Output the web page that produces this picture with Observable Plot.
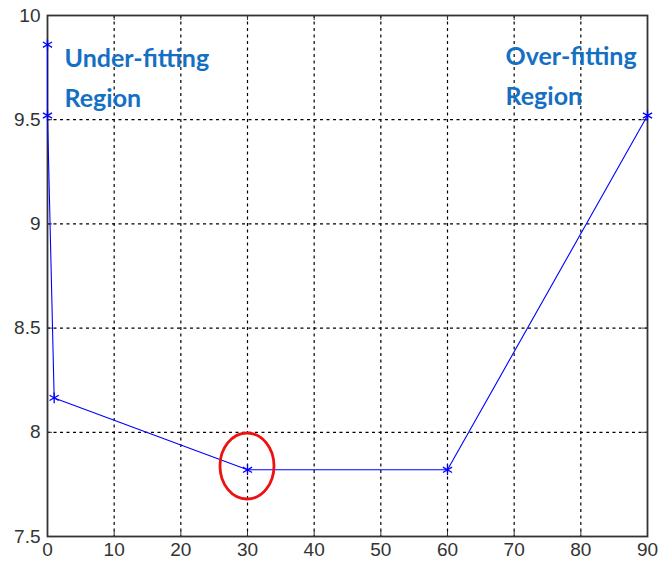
<!DOCTYPE html>
<html><head><meta charset="utf-8">
<script src="https://cdn.jsdelivr.net/npm/d3@7"></script>
<script src="https://cdn.jsdelivr.net/npm/@observablehq/plot@0.6"></script>
<style>body{margin:0;background:#fff}</style>
</head><body><div id="chart"></div>
<script>
const xValues = [0, 0, 1, 30, 60, 90];
const yValues = [9.86, 9.52, 8.165, 7.82, 7.82, 9.52];
const xTicks = [0, 10, 20, 30, 40, 50, 60, 70, 80, 90];
const yTicks = [7.5, 8, 8.5, 9, 9.5, 10];
const labelText = ["Under-fitting\nRegion", "Over-fitting\nRegion"];
const labelX = [2.55, 68.7];
const labelY = [9.89, 9.9];
const circleX = 30;
const circleY = 7.836;

const W = 670, H = 563, mT = 15, mB = 27, mL = 47, mR = 23;
const innerH = H - mT - mB, innerW = W - mL - mR;
const pts = xValues.map((x, i) => ({x, y: yValues[i]}));
const labels = labelText.map((t, i) => ({t, x: labelX[i], y: labelY[i]}));

const chart = Plot.plot({
  width: W, height: H,
  marginTop: mT, marginBottom: mB, marginLeft: mL, marginRight: mR,
  style: {fontFamily: "'Liberation Sans', Arial, sans-serif", background: "#fff"},
  x: {domain: [0, 90], ticks: xTicks, label: null},
  y: {domain: [7.5, 10], ticks: yTicks, label: null},
  marks: [
    Plot.gridX(xTicks.slice(1, -1), {stroke: "#000", strokeOpacity: 1, strokeDasharray: "3,3.5", strokeWidth: 1.2}),
    Plot.gridY(yTicks.slice(1, -1), {stroke: "#000", strokeOpacity: 1, strokeDasharray: "3,3.5", strokeWidth: 1.2}),
    Plot.tickX(xTicks, {stroke: "#333", insetTop: innerH - 5}),
    Plot.tickX(xTicks, {stroke: "#333", insetBottom: innerH - 5}),
    Plot.tickY(yTicks, {stroke: "#333", insetRight: innerW - 5}),
    Plot.tickY(yTicks, {stroke: "#333", insetLeft: innerW - 5}),
    Plot.frame({stroke: "#333", strokeWidth: 1.8}),
    Plot.axisX(xTicks, {tickSize: 0, tickPadding: 6, fontSize: 19, fill: "#333", label: null, tickFormat: d => String(d)}),
    Plot.axisY(yTicks, {tickSize: 0, tickPadding: 7, fontSize: 19, fill: "#333", label: null, tickFormat: d => String(d)}),
    Plot.line(pts, {x: "x", y: "y", stroke: "#0000ff", strokeWidth: 1.1}),
    Plot.dot(pts, {x: "x", y: "y", symbol: "asterisk", r: 5, stroke: "#0000ff", strokeWidth: 1.3}),
    Plot.text(labels, {x: "x", y: "y", text: "t", textAnchor: "start", lineAnchor: "top", lineHeight: 1.6,
      fontSize: 25, fontWeight: "bold", fontFamily: "Lato, 'Open Sans', sans-serif", fill: "#1570c4"})
  ]
});

const sx = chart.scale("x"), sy = chart.scale("y");
d3.select(chart).append("ellipse")
  .attr("cx", sx.apply(circleX)).attr("cy", sy.apply(circleY))
  .attr("rx", 27).attr("ry", 33)
  .attr("fill", "none").attr("stroke", "#ee1111").attr("stroke-width", 2.8);

document.getElementById("chart").appendChild(chart);
</script>
</body></html>
